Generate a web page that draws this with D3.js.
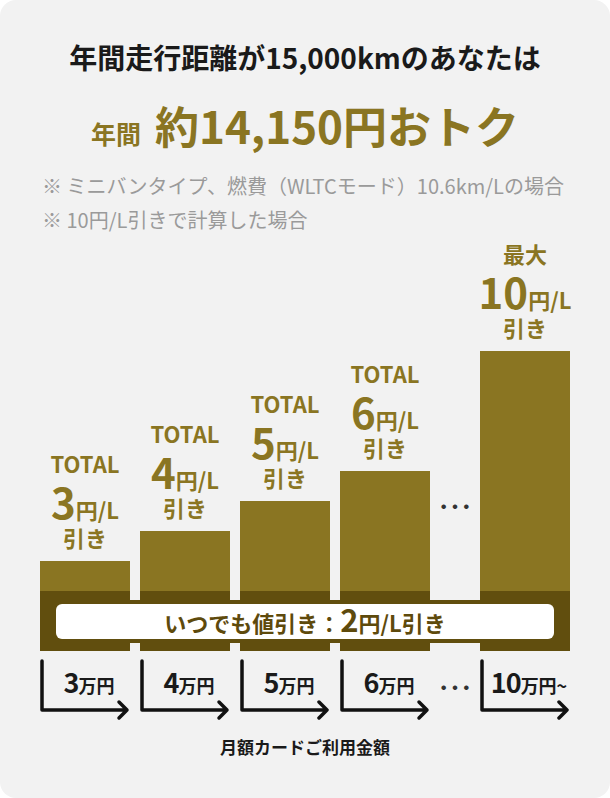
<!DOCTYPE html>
<html lang="ja">
<head>
<meta charset="utf-8">
<script src="https://cdn.jsdelivr.net/npm/d3@7"></script>
<style>
html, body { margin: 0; padding: 0; background: #fff; }
svg { display: block; font-family: "Noto Sans CJK JP", sans-serif; }
</style>
</head>
<body>
<svg id="chart" width="610" height="798"></svg>
<script>
/* global d3 */
// data
var amounts = ["3", "4", "5", "6", "10"];
var amountUnits = ["万円", "万円", "万円", "万円", "万円~"];
var totalDiscount = [3, 4, 5, 6, 10];
var headLabels = ["TOTAL", "TOTAL", "TOTAL", "TOTAL", "最大"];
var baseDiscount = 2;
var unitLabel = "円/L";
var tailLabel = "引き";
var titleText = "年間走行距離が15,000kmのあなたは";
var savingPrefix = "年間";
var savingText = "約14,150円おトク";
var notes = ["※ ミニバンタイプ、燃費（WLTCモード）10.6km/Lの場合", "※ 10円/L引きで計算した場合"];
var baseLabel = "いつでも値引き：";
var axisTitle = "月額カードご利用金額";

var gold = "#8a7522",
    dark = "#614e0e",
    ink = "#1a1a1a";

var data = amounts.map(function (a, i) {
    return { amount: a, unit: amountUnits[i], total: totalDiscount[i], head: headLabels[i] };
});

var svg = d3.select("#chart"),
    width = +svg.attr("width"),
    height = +svg.attr("height");

// achtergrond
svg.append("rect")
    .attr("width", width)
    .attr("height", height)
    .attr("rx", 16)
    .attr("fill", "#f2f2f2");

// kop
svg.append("text")
    .attr("x", width / 2)
    .attr("y", 69)
    .attr("text-anchor", "middle")
    .attr("font-size", 28)
    .attr("font-weight", 700)
    .attr("fill", ink)
    .text(titleText);

var saving = svg.append("text")
    .attr("x", width / 2)
    .attr("y", 144)
    .attr("text-anchor", "middle")
    .attr("font-weight", 700)
    .attr("fill", gold);
saving.append("tspan").attr("font-size", 25).text(savingPrefix);
saving.append("tspan").attr("font-size", 44).attr("dx", 14).text(savingText);

svg.selectAll(".note")
    .data(notes)
    .enter().append("text")
    .attr("class", "note")
    .attr("x", 42)
    .attr("y", function (d, i) { return 194 + i * 34; })
    .attr("font-size", 20)
    .attr("fill", "#9a9a9a")
    .text(function (d) { return d; });

// schalen
var x = d3.scaleBand().domain(amounts).range([40, 530]).paddingInner(0.1),
    y = d3.scaleLinear().domain([0, 10]).range([651, 351]);

var dotsGap = 40;
function barX(d, i) {
    return x(d.amount) + (i === data.length - 1 ? dotsGap : 0);
}
function barMid(d, i) {
    return barX(d, i) + x.bandwidth() / 2;
}

var lastX = barX(data[data.length - 1], data.length - 1) + x.bandwidth();

// doorlopende band voor de vaste korting
svg.append("rect")
    .attr("x", x(amounts[0]))
    .attr("y", y(baseDiscount) + 9)
    .attr("width", lastX - x(amounts[0]))
    .attr("height", y(0) - 8 - (y(baseDiscount) + 9))
    .attr("fill", dark);

var g = svg.append("g");

g.selectAll(".bar")
    .data(data)
    .enter().append("rect")
    .attr("class", "bar")
    .attr("x", barX)
    .attr("y", function (d) { return y(d.total); })
    .attr("width", x.bandwidth())
    .attr("height", function (d) { return y(baseDiscount) - y(d.total); })
    .attr("fill", gold);

g.selectAll(".base")
    .data(data)
    .enter().append("rect")
    .attr("class", "base")
    .attr("x", barX)
    .attr("y", y(baseDiscount))
    .attr("width", x.bandwidth())
    .attr("height", y(0) - y(baseDiscount))
    .attr("fill", dark);

// witte pil
var pillTop = y(baseDiscount) + 13,
    pillBottom = y(0) - 12;
svg.append("rect")
    .attr("x", x(amounts[0]) + 16)
    .attr("y", pillTop)
    .attr("width", lastX - x(amounts[0]) - 32)
    .attr("height", pillBottom - pillTop)
    .attr("rx", 6)
    .attr("fill", "#fff");

var pill = svg.append("text")
    .attr("x", width / 2)
    .attr("y", pillBottom - 7)
    .attr("text-anchor", "middle")
    .attr("font-weight", 700)
    .attr("fill", "#5e4a0c");
pill.append("tspan").attr("font-size", 22).text(baseLabel);
pill.append("tspan").attr("font-size", 31).text(baseDiscount);
pill.append("tspan").attr("font-size", 22).text(unitLabel + tailLabel);

// labels boven de balken
var labels = g.selectAll(".lbl")
    .data(data)
    .enter().append("g")
    .attr("class", "lbl")
    .attr("fill", gold)
    .attr("font-weight", 700)
    .attr("text-anchor", "middle");

labels.append("text")
    .attr("x", barMid)
    .attr("y", function (d) { return y(d.total) - 88; })
    .attr("font-size", 22)
    .text(function (d) { return d.head; });

var num = labels.append("text")
    .attr("x", barMid)
    .attr("y", function (d) { return y(d.total) - 42; });
num.append("tspan").attr("font-size", 42).text(function (d) { return d.total; });
num.append("tspan").attr("font-size", 22).text(unitLabel);

labels.append("text")
    .attr("x", barMid)
    .attr("y", function (d) { return y(d.total) - 14; })
    .attr("font-size", 22)
    .text(tailLabel);

// puntjes tussen 6 en 10
var dotsX = (barX(data[3], 3) + x.bandwidth() + barX(data[4], 4)) / 2;
[505, 686].forEach(function (yy) {
    svg.append("text")
        .attr("x", dotsX)
        .attr("y", yy)
        .attr("text-anchor", "middle")
        .attr("dominant-baseline", "central")
        .attr("font-size", 34)
        .attr("fill", "#333")
        .text("…");
});

// x-as met pijlen
var axis = svg.append("g")
    .attr("fill", "none")
    .attr("stroke", "#111")
    .attr("stroke-width", 3.5)
    .attr("stroke-linecap", "round")
    .attr("stroke-linejoin", "round");

axis.selectAll("path")
    .data(data)
    .enter().append("path")
    .attr("d", function (d, i) {
        var x0 = barX(d, i) + 2,
            x1 = barX(d, i) + x.bandwidth() - 3;
        return "M" + x0 + ",661V710H" + x1 +
            "M" + (x1 - 8) + ",702L" + x1 + ",710L" + (x1 - 8) + ",718";
    });

var tick = svg.selectAll(".tick")
    .data(data)
    .enter().append("text")
    .attr("class", "tick")
    .attr("x", function (d, i) { return barMid(d, i) + 4; })
    .attr("y", 693)
    .attr("text-anchor", "middle")
    .attr("font-weight", 700)
    .attr("fill", ink);
tick.append("tspan").attr("font-size", 27).attr("letter-spacing", -1).text(function (d) { return d.amount; });
tick.append("tspan").attr("font-size", 18).text(function (d) { return d.unit; });

svg.append("text")
    .attr("x", width / 2)
    .attr("y", 754)
    .attr("text-anchor", "middle")
    .attr("font-size", 17)
    .attr("font-weight", 700)
    .attr("fill", ink)
    .text(axisTitle);
</script>
</body>
</html>
